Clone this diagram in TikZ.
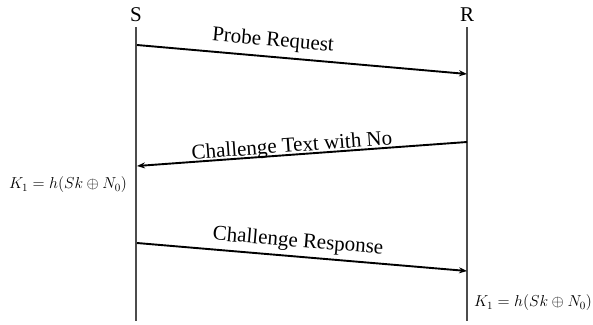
\documentclass[tikz,border=0pt]{standalone}
\usepackage{fontspec}
\setmainfont{Liberation Serif}
\usetikzlibrary{arrows.meta}
\begin{document}
\begin{tikzpicture}[x=1pt,y=-1pt,
  lifeline/.style={line width=1.4pt,draw=black!70},
  msg/.style={line width=1.9pt,-{Stealth[length=8pt,width=6pt]}},
  lbl/.style={font=\fontsize{21}{24}\selectfont,inner sep=0pt},
  head/.style={font=\fontsize{21}{24}\selectfont,inner sep=0pt},
  keylbl/.style={font=\fontsize{14.4}{17}\selectfont,inner sep=0pt,scale=1.1,transform shape}]
\useasboundingbox (0,0) rectangle (593,324);
\node[head] (S) at (136,15) {S};
\node[head] (R) at (467,15) {R};
\coordinate (Stop) at (136,27);
\coordinate (Sbot) at (136,321);
\coordinate (Rtop) at (467,27);
\coordinate (Rbot) at (467,321);
\draw[lifeline] (Stop) -- (Sbot);
\draw[lifeline] (Rtop) -- (Rbot);
\coordinate (a1s) at (137,45);
\coordinate (a1e) at (467,74);
\coordinate (a2s) at (467,142);
\coordinate (a2e) at (137,166);
\coordinate (a3s) at (137,243);
\coordinate (a3e) at (467,271);
\draw[msg] (a1s) -- (a1e);
\draw[msg] (a2s) -- (a2e);
\draw[msg] (a3s) -- (a3e);
\node[lbl,rotate=-5] (l1) at (273,41) {Probe Request};
\node[lbl,rotate=4.2] (l2) at (292,147) {Challenge Text with No};
\node[lbl,rotate=-4.8] (l3) at (298,242) {Challenge Response};
\node[keylbl] (k1) at (68,185) {$K_1 = h(Sk \oplus N_0)$};
\node[keylbl] (k2) at (533,303) {$K_1 = h(Sk \oplus N_0)$};
\end{tikzpicture}
\end{document}
